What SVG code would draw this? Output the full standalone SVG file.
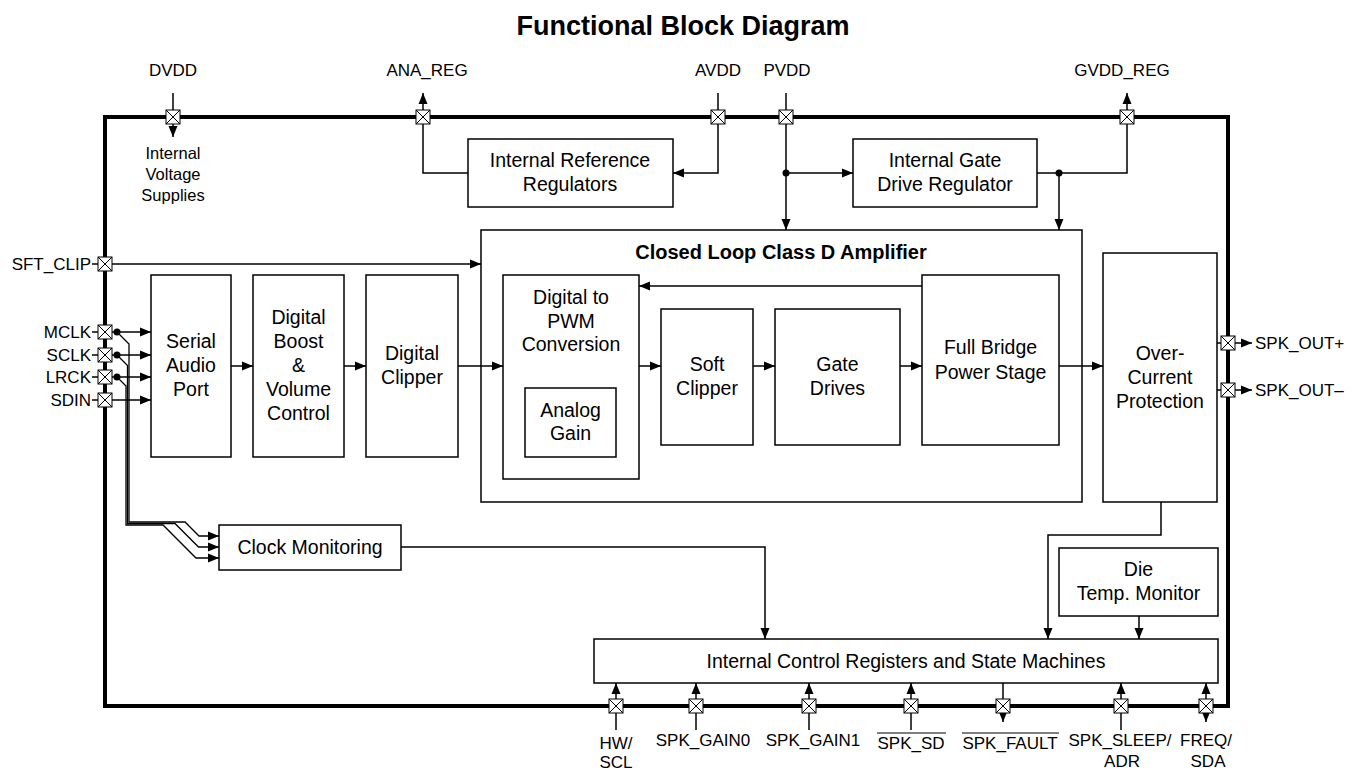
<svg xmlns="http://www.w3.org/2000/svg" xmlns:xlink="http://www.w3.org/1999/xlink" width="1366" height="771" viewBox="0 0 1366 771">
<style>
text{font-family:"Liberation Sans",Arial,sans-serif;fill:#000}
.blk{font-size:19.5px;text-anchor:middle}
.pin{font-size:17px}
.mid{text-anchor:middle}
.end{text-anchor:end}
.box{fill:#fff;stroke:#000;stroke-width:1.5}
.ln{fill:none;stroke:#000;stroke-width:1.5}
.bus{fill:none;stroke:#000;stroke-width:1.3}
.arr{marker-end:url(#ah)}
.dot{fill:#000}
</style>
<defs>
<marker id="ah" markerUnits="userSpaceOnUse" markerWidth="11" markerHeight="10" refX="11" refY="5" orient="auto-start-reverse"><path d="M0,0.5 L11,5 L0,9.5 z" fill="#000"/></marker>
<g id="pinbox"><rect x="-7" y="-7" width="14" height="14" fill="#fff" stroke="#000" stroke-width="1"/><path d="M-7,-7 L7,7 M7,-7 L-7,7" stroke="#000" stroke-width="1"/></g>
</defs>
<rect width="1366" height="771" fill="#fff"/>
<text x="683" y="35" class="mid" style="font-size:27px;font-weight:bold">Functional Block Diagram</text>
<rect x="105" y="117" width="1123" height="589" fill="none" stroke="#000" stroke-width="4"/>

<g id="connectors">
<path class="ln arr" d="M173,93 V137"/>
<path class="ln arr" d="M468,173 H423 V93"/>
<path class="ln arr" d="M718,93 V173 H673"/>
<path class="ln arr" d="M786,93 V230"/>
<path class="ln arr" d="M786,173 H853"/>
<path class="ln arr" d="M1037,173 H1127 V93"/>
<path class="ln arr" d="M1059,173 V230"/>
<circle class="dot" cx="786" cy="173" r="3.5"/>
<circle class="dot" cx="1059" cy="173" r="3.5"/>
<path class="ln" d="M92,264 H98 M92,332 H98 M92,355 H98 M92,377 H98 M92,400 H98"/>
<path class="ln arr" d="M112,264 H481"/>
<path class="ln arr" d="M112,332 H151"/>
<path class="ln arr" d="M112,355 H151"/>
<path class="ln arr" d="M112,377 H151"/>
<path class="ln arr" d="M112,400 H151"/>
<circle class="dot" cx="117" cy="332" r="3.5"/>
<circle class="dot" cx="117" cy="355" r="3.5"/>
<circle class="dot" cx="117" cy="377" r="3.5"/>
<path class="bus arr" d="M117,332 L129,344 V522 H185 L199,536 H219"/>
<path class="bus arr" d="M117,355 L127.5,365.5 V523.5 H175 L198.5,547 H219"/>
<path class="bus arr" d="M117,377 L126,386 V525 H163 L196,558 H219"/>
<path class="ln arr" d="M231,366 H253"/>
<path class="ln arr" d="M344,366 H366"/>
<path class="ln arr" d="M458,366 H503"/>
<path class="ln arr" d="M639,366 H661"/>
<path class="ln arr" d="M753,366 H775"/>
<path class="ln arr" d="M900,366 H922"/>
<path class="ln arr" d="M1059,366 H1103"/>
<path class="ln arr" d="M922,286 H639"/>
<path class="ln" d="M1217,343 H1222 M1217,390 H1222"/>
<path class="ln arr" d="M1235,343 H1252"/>
<path class="ln arr" d="M1235,390 H1252"/>
<path class="ln arr" d="M1161,502 V535 H1048 V639"/>
<path class="ln arr" d="M1139,616 V639"/>
<path class="ln arr" d="M401,547 H765 V639"/>
<path class="ln arr" d="M616,730 V683"/>
<path class="ln arr" d="M696,730 V683"/>
<path class="ln arr" d="M809,730 V683"/>
<path class="ln arr" d="M911,730 V683"/>
<path class="ln arr" d="M1003,683 V722"/>
<path class="ln arr" d="M1121,730 V683"/>
<path class="ln arr" d="M1206,722 V683" style="marker-start:url(#ah)"/>
</g>

<g id="pins">
<use href="#pinbox" x="173" y="117"/>
<use href="#pinbox" x="423" y="117"/>
<use href="#pinbox" x="718" y="117"/>
<use href="#pinbox" x="786" y="117"/>
<use href="#pinbox" x="1127" y="117"/>
<use href="#pinbox" x="105" y="264"/>
<use href="#pinbox" x="105" y="332"/>
<use href="#pinbox" x="105" y="355"/>
<use href="#pinbox" x="105" y="377"/>
<use href="#pinbox" x="105" y="400"/>
<use href="#pinbox" x="1228" y="343"/>
<use href="#pinbox" x="1228" y="390"/>
<use href="#pinbox" x="616" y="706"/>
<use href="#pinbox" x="696" y="706"/>
<use href="#pinbox" x="809" y="706"/>
<use href="#pinbox" x="911" y="706"/>
<use href="#pinbox" x="1003" y="706"/>
<use href="#pinbox" x="1121" y="706"/>
<use href="#pinbox" x="1206" y="706"/>
</g>

<g id="pin-labels" class="pin">
<text x="173" y="76" class="mid">DVDD</text>
<text x="427" y="76" class="mid">ANA_REG</text>
<text x="718" y="76" class="mid">AVDD</text>
<text x="787" y="76" class="mid">PVDD</text>
<text x="1122" y="76" class="mid">GVDD_REG</text>
<text x="173" y="159" class="mid" style="font-size:16.5px">Internal</text>
<text x="173" y="180" class="mid" style="font-size:16.5px">Voltage</text>
<text x="173" y="201" class="mid" style="font-size:16.5px">Supplies</text>
<text x="91" y="270" class="end">SFT_CLIP</text>
<text x="91" y="338" class="end">MCLK</text>
<text x="91" y="361" class="end">SCLK</text>
<text x="91" y="383" class="end">LRCK</text>
<text x="91" y="406" class="end">SDIN</text>
<text x="1255" y="349">SPK_OUT+</text>
<text x="1255" y="396">SPK_OUT–</text>
<text x="616" y="749" class="mid">HW/</text>
<text x="616" y="768" class="mid">SCL</text>
<text x="703" y="746" class="mid">SPK_GAIN0</text>
<text x="813" y="746" class="mid">SPK_GAIN1</text>
<text x="911" y="749" class="mid">SPK_SD</text>
<path class="ln" d="M877,733 H946" style="stroke-width:1.2"/>
<text x="1010" y="749" class="mid">SPK_FAULT</text>
<path class="ln" d="M962,733 H1059" style="stroke-width:1.2"/>
<text x="1120" y="746" class="mid">SPK_SLEEP/</text>
<text x="1122" y="767" class="mid">ADR</text>
<text x="1206" y="746" class="mid">FREQ/</text>
<text x="1208" y="767" class="mid">SDA</text>
</g>

<g id="n-irr"><rect class="box" x="468" y="139" width="205" height="68"/>
<text class="blk" x="570" y="167">Internal Reference</text><text class="blk" x="570" y="191">Regulators</text></g>
<g id="n-igdr"><rect class="box" x="853" y="139" width="184" height="68"/>
<text class="blk" x="945" y="167">Internal Gate</text><text class="blk" x="945" y="191">Drive Regulator</text></g>
<g id="n-amp"><rect class="box" x="481" y="230" width="601" height="272" style="fill:none"/>
<text class="blk" x="781" y="259" style="font-weight:bold;font-size:20px">Closed Loop Class D Amplifier</text></g>
<g id="n-sap"><rect class="box" x="151" y="275" width="80" height="182"/>
<text class="blk" x="191" y="348">Serial</text><text class="blk" x="191" y="372">Audio</text><text class="blk" x="191" y="396">Port</text></g>
<g id="n-dbvc"><rect class="box" x="253" y="275" width="91" height="182"/>
<text class="blk" x="298.5" y="324">Digital</text><text class="blk" x="298.5" y="348">Boost</text><text class="blk" x="298.5" y="372">&amp;</text><text class="blk" x="298.5" y="396">Volume</text><text class="blk" x="298.5" y="420">Control</text></g>
<g id="n-dc"><rect class="box" x="366" y="275" width="92" height="182"/>
<text class="blk" x="412" y="360">Digital</text><text class="blk" x="412" y="384">Clipper</text></g>
<g id="n-dpwm"><rect class="box" x="503" y="275" width="136" height="204"/>
<text class="blk" x="571" y="304">Digital to</text><text class="blk" x="571" y="328">PWM</text><text class="blk" x="571" y="351">Conversion</text></g>
<g id="n-ag"><rect class="box" x="525" y="388" width="91" height="69"/>
<text class="blk" x="570.5" y="417">Analog</text><text class="blk" x="570.5" y="440">Gain</text></g>
<g id="n-sc"><rect class="box" x="661" y="309" width="92" height="136"/>
<text class="blk" x="707" y="371">Soft</text><text class="blk" x="707" y="395">Clipper</text></g>
<g id="n-gd"><rect class="box" x="775" y="309" width="125" height="136"/>
<text class="blk" x="837.5" y="371">Gate</text><text class="blk" x="837.5" y="395">Drives</text></g>
<g id="n-fb"><rect class="box" x="922" y="275" width="137" height="170"/>
<text class="blk" x="990.5" y="354">Full Bridge</text><text class="blk" x="990.5" y="379">Power Stage</text></g>
<g id="n-ocp"><rect class="box" x="1103" y="253" width="114" height="249"/>
<text class="blk" x="1160" y="360">Over-</text><text class="blk" x="1160" y="384">Current</text><text class="blk" x="1160" y="408">Protection</text></g>
<g id="n-cm"><rect class="box" x="219" y="525" width="182" height="45"/>
<text class="blk" x="310" y="554">Clock Monitoring</text></g>
<g id="n-dtm"><rect class="box" x="1059" y="548" width="159" height="68"/>
<text class="blk" x="1138.5" y="576">Die</text><text class="blk" x="1138.5" y="600">Temp. Monitor</text></g>
<g id="n-icr"><rect class="box" x="594" y="639" width="624" height="44"/>
<text class="blk" x="906" y="668">Internal Control Registers and State Machines</text></g>
</svg>
